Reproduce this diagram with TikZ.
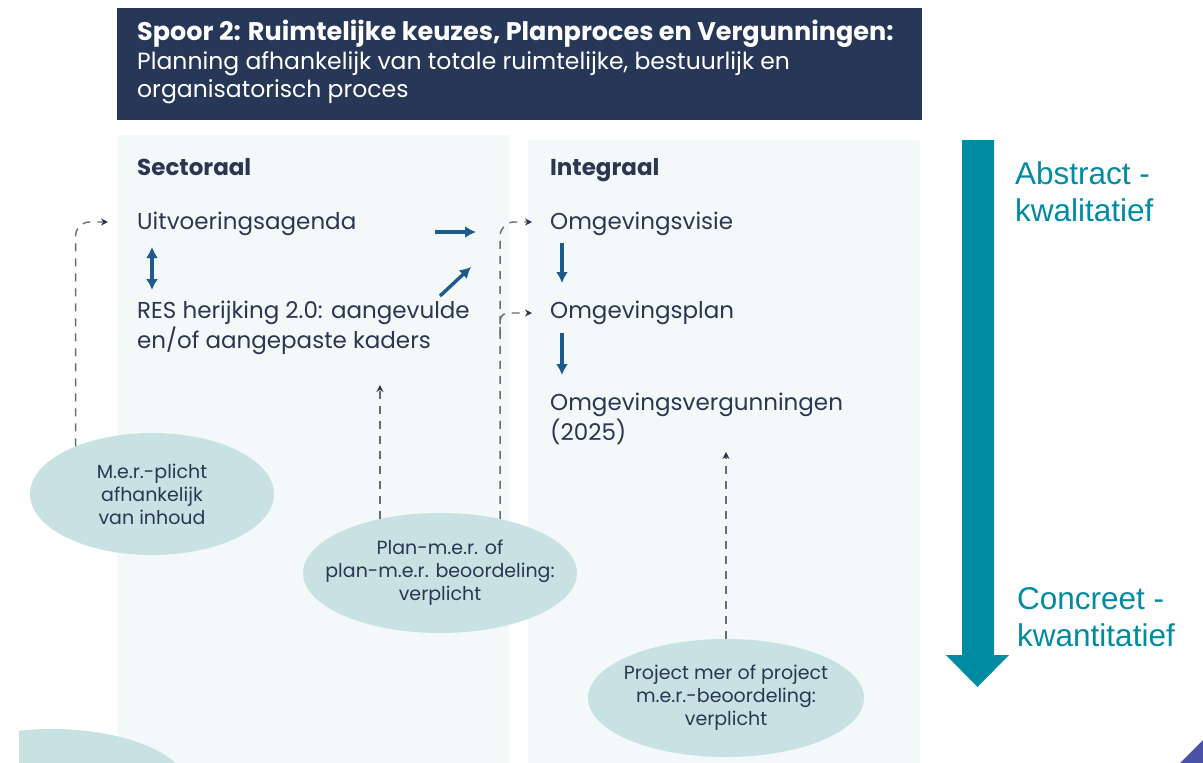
\documentclass[tikz,border=0pt]{standalone}
\usepackage{fontspec}
\setmainfont{Poppins}
\newfontfamily\scalefont{Liberation Sans}
\usetikzlibrary{arrows.meta,calc,positioning,shapes.geometric}
\definecolor{bannernavy}{RGB}{38,55,87}
\definecolor{inknavy}{RGB}{42,54,82}
\definecolor{panelmist}{RGB}{243,248,249}
\definecolor{ovalsea}{RGB}{200,226,227}
\definecolor{flowblue}{RGB}{30,90,142}
\definecolor{scaleteal}{RGB}{0,139,163}
\definecolor{cuegrey}{RGB}{105,108,118}
\definecolor{cornerblue}{RGB}{76,81,168}
\tikzset{
  panel/.style={fill=panelmist},
  headline/.style={font=\fontsize{25.5}{28}\selectfont\bfseries,text=white,anchor=base west,inner sep=0pt},
  subline/.style={font=\fontsize{23.5}{28}\selectfont,text=white,anchor=base west,inner sep=0pt,align=left},
  coltitle/.style={font=\fontsize{23}{28}\selectfont\bfseries,text=inknavy,anchor=base west,inner sep=0pt},
  item/.style={font=\fontsize{23}{30}\selectfont,text=inknavy,anchor=base west,inner sep=0pt,align=left},
  oval/.style={ellipse,fill=ovalsea,inner xsep=-40pt,inner ysep=-10pt,align=center,text=inknavy,
               font=\fontsize{19}{23}\selectfont},
  flow/.style={flowblue,line width=3.4pt,-{Latex[length=11pt,width=12pt]}},
  cue/.style={cuegrey,line width=1.4pt,dash pattern=on 8pt off 7pt,rounded corners=14pt,
              -{Stealth[length=7pt,width=7pt,inknavy]}},
  scalelab/.style={font=\scalefont\fontsize{31.5}{37}\selectfont,text=scaleteal,anchor=base west,
                   inner sep=0pt,align=left},
}
\begin{document}
\begin{tikzpicture}[x=1pt,y=-1pt]
  \path[use as bounding box] (0,0) rectangle (1203,763);

  % banner
  \fill[bannernavy] (117,8) rectangle (922,120);
  \node[headline] (title) at (137,40) {Spoor 2: Ruimtelijke keuzes, Planproces en Vergunningen:};
  \node[subline] (subtitle) at (137,97)
    {Planning afhankelijk van totale ruimtelijke, bestuurlijk en\\organisatorisch proces};

  % columns
  \fill[panel] (117,135) rectangle (509,763);
  \fill[panel] (528,140) rectangle (920,763);
  \begin{scope}
    \clip (19,700) rectangle (300,763);
    \fill[ovalsea] (52,789) ellipse [x radius=137,y radius=60];
  \end{scope}

  \node[coltitle] (sect) at (137,175) {Sectoraal};
  \node[coltitle] (integ) at (550,175) {Integraal};

  \node[item] (uitv) at (137,229) {Uitvoeringsagenda};
  \node[item] (res) at (137,348) {RES herijking 2.0: aangevulde\\en/of aangepaste kaders};
  \node[item] (visie) at (550,229) {Omgevingsvisie};
  \node[item] (plan) at (550,318) {Omgevingsplan};
  \node[item] (verg) at (550,440) {Omgevingsvergunningen\\(2025)};

  \node[oval,minimum width=244pt,minimum height=122pt] (merE) at (152,494)
    {M.e.r.-plicht\\afhankelijk\\van inhoud};
  \node[oval,minimum width=274pt,minimum height=120pt] (planE) at (440,573)
    {Plan-m.e.r. of\\plan-m.e.r. beoordeling:\\verplicht};
  \node[oval,minimum width=276pt,minimum height=118pt] (projE) at (726,698)
    {Project mer of project\\m.e.r.-beoordeling:\\verplicht};

  % solid flow
  \draw[flow,{Latex[length=11pt,width=12pt]}-{Latex[length=11pt,width=12pt]}]
    ([xshift=15pt,yshift=-18pt]uitv.base west) -- ([xshift=15pt,yshift=58pt]res.base west);
  \coordinate (hopFrom) at (435,232);
  \coordinate (hopTo) at (476,232);
  \coordinate (riseFrom) at (440,296);
  \coordinate (riseTo) at (471,267);
  \draw[flow] (hopFrom) -- (hopTo);
  \draw[flow] (riseFrom) -- (riseTo);
  \draw[flow] ([xshift=12pt,yshift=-14pt]visie.base west) -- ([xshift=12pt,yshift=35pt]plan.base west);
  \draw[flow] ([xshift=12pt,yshift=-15pt]plan.base west) -- ([xshift=12pt,yshift=65pt]verg.base west);

  % dashed cues
  \draw[cue] (merE.148) |- ([xshift=-29pt,yshift=7pt]uitv.base west);
  \draw[cue,shorten >=37pt] (planE.138) -- (planE.138 |- res.base);
  \draw[cue] (planE.42) |- ([xshift=-18pt,yshift=7pt]visie.base west);
  \draw[cue,rounded corners=8pt] ([yshift=-17pt]planE.42 |- plan.base) |- ([xshift=-18pt,yshift=5pt]plan.base west);
  \draw[cue,shorten >=12pt] (projE.north) -- (projE.north |- verg.base);

  % scale arrow
  \fill[scaleteal] (962,140) -- (994,140) -- (994,655) -- (1009,655) -- (977.5,687)
    -- (946,655) -- (962,655) -- cycle;
  \node[scalelab] (abstr) at (1015,221) {Abstract -\\kwalitatief};
  \node[scalelab] (concr) at (1017,646) {Concreet -\\kwantitatief};

  \fill[cornerblue] (1180,763) -- (1203,740) -- (1203,763) -- cycle;
\end{tikzpicture}
\end{document}
